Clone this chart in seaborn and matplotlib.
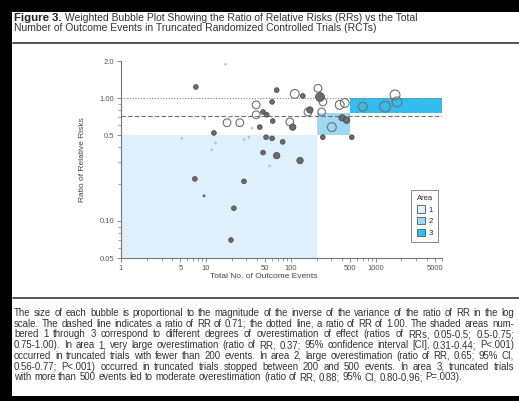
import matplotlib

matplotlib.use("Agg")
import matplotlib.pyplot as plt
import numpy as np
import pandas as pd
import seaborn as sns
from matplotlib.lines import Line2D
from matplotlib.patches import Patch, Rectangle

# --- data ---
events = [17, 7.6, 39, 39, 60, 68, 47, 52, 61, 17.7, 25, 19, 9.7, 35, 43,
          97, 105, 111, 138, 208, 220, 238, 167, 159, 230, 237, 303, 375, 430,
          400, 453, 520, 12.4, 13, 11.7, 5.2, 28, 32, 51, 60, 80, 47, 68, 128,
          56, 7.4, 28, 9.5, 21.3, 19.7, 700, 1280, 1680, 1770]
ratio_rr = [1.88, 1.23, 0.88, 0.73, 0.93, 1.16, 0.77, 0.73, 0.65, 0.63, 0.63,
            0.70, 0.68, 0.57, 0.58, 0.64, 0.58, 1.08, 1.04, 1.20, 1.02, 0.93,
            0.80, 0.77, 0.77, 0.48, 0.58, 0.88, 0.91, 0.69, 0.66, 0.48, 0.52,
            0.43, 0.38, 0.47, 0.46, 0.48, 0.48, 0.47, 0.44, 0.36, 0.34, 0.31,
            0.28, 0.22, 0.21, 0.16, 0.127, 0.070, 0.85, 0.85, 1.06, 0.93]
weight = [1, 2, 4, 4, 2, 2, 2, 2, 2, 4, 4, 1, 1, 1, 2,
          4, 3, 5, 2, 4, 5, 4, 3, 4, 4, 2, 5, 5, 5,
          3, 3, 2, 2, 1, 1, 1, 1, 1, 2, 2, 2, 2, 3, 3,
          1, 2, 2, 1, 2, 2, 5, 7, 6, 6]
marker_kind = ["light", "dark", "open", "open", "dark", "dark", "dark", "dark", "dark",
               "open", "open", "light", "light", "light", "dark",
               "open", "dark", "open", "dark", "open", "dark", "open", "dark", "open",
               "open", "dark", "open", "open", "open", "dark", "dark", "dark",
               "dark", "light", "light", "light", "light", "light", "dark", "dark",
               "dark", "dark", "dark", "dark", "light", "dark", "dark", "dark",
               "dark", "dark", "open", "open", "open", "open"]

area_names = ["1", "2", "3"]
area_x_lo = [1, 200, 500]
area_x_hi = [200, 500, 6000]
area_y_lo = [0.05, 0.5, 0.75]
area_y_hi = [0.5, 0.75, 1.00]
area_colors = ["#def0fb", "#9fd8f3", "#35bcef"]

dashed_ratio = 0.71
dotted_ratio = 1.00

x_ticks = [1, 5, 10, 50, 100, 500, 1000, 5000]
y_ticks = [0.05, 0.10, 0.5, 1.00, 2.0]
y_tick_labels = ["0.05", "0.10", "0.5", "1.00", "2.0"]

title_bold = "Figure 3."
title_line1 = " Weighted Bubble Plot Showing the Ratio of Relative Risks (RRs) vs the Total"
title_line2 = "Number of Outcome Events in Truncated Randomized Controlled Trials (RCTs)"
caption_lines = [
    "The size of each bubble is proportional to the magnitude of the inverse of the variance of the ratio of RR in the log",
    "scale. The dashed line indicates a ratio of RR of 0.71; the dotted line, a ratio of RR of 1.00. The shaded areas num-",
    "bered 1 through 3 correspond to different degrees of overestimation of effect (ratios of RRs, 0.05-0.5; 0.5-0.75;",
    "0.75-1.00). In area 1, very large overestimation (ratio of RR, 0.37; 95% confidence interval [CI], 0.31-0.44; P<.001)",
    "occurred in truncated trials with fewer than 200 events. In area 2, large overestimation (ratio of RR, 0.65; 95% CI,",
    "0.56-0.77; P<.001) occurred in truncated trials stopped between 200 and 500 events. In area 3, truncated trials",
    "with more than 500 events led to moderate overestimation (ratio of RR, 0.88; 95% CI, 0.80-0.96; P=.003).",
]

sns.set_style("ticks")
plt.rcParams["font.family"] = ["Liberation Sans", "DejaVu Sans"]

W, H = 519, 401
fig = plt.figure(figsize=(W / 100, H / 100), dpi=100, facecolor="black")
renderer = fig.canvas.get_renderer()

# white page panel
fig.patches.append(Rectangle((12 / W, 1 - 396 / H), 1 - 12 / W, (396 - 12) / H,
                             transform=fig.transFigure, facecolor="white",
                             edgecolor="none", zorder=-5))

ax = fig.add_axes([121 / W, 1 - 258 / H, 321 / W, 197 / H])
ax.set_zorder(2)
ax.set_facecolor("none")
ax.set_xscale("log")
ax.set_yscale("log")
ax.set_xlim(1, 6000)
ax.set_ylim(0.05, 2.0)

for x0, x1, y0, y1, c in zip(area_x_lo, area_x_hi, area_y_lo, area_y_hi, area_colors):
    ax.fill_between([x0, x1], y0, y1, color=c, linewidth=0, zorder=1)

ax.axhline(dotted_ratio, color="#808080", lw=0.8, ls=(0, (1, 1.5)), zorder=2)
ax.axhline(dashed_ratio, color="#707070", lw=0.8, ls=(0, (4, 2)), zorder=2)

df = pd.DataFrame({"events": events, "ratio": ratio_rr, "weight": weight, "kind": marker_kind})
styles = {
    "open": dict(facecolor="none", edgecolor="#707070", linewidth=0.8),
    "dark": dict(color="#6b6b6b", edgecolor="#444444", linewidth=0.5),
    "light": dict(color="#c2c2c2", edgecolor="#b0b0b0", linewidth=0.3),
}
for kind, kw in styles.items():
    sub = df[df["kind"] == kind]
    sns.scatterplot(data=sub, x="events", y="ratio", size="weight", sizes=(2, 60),
                    size_norm=(1, 7), legend=False, ax=ax, zorder=3, **kw)

sns.despine(ax=ax)
for side in ["left", "bottom"]:
    ax.spines[side].set_color("#777777")
    ax.spines[side].set_linewidth(0.8)

ax.set_xticks(x_ticks)
ax.set_xticklabels([str(t) for t in x_ticks])
ax.set_yticks(y_ticks)
ax.set_yticklabels(y_tick_labels)
ax.tick_params(which="major", length=3, width=0.6, color="#777777", labelsize=5.5,
               labelcolor="#555555", pad=2)
ax.tick_params(which="minor", length=2, width=0.5, color="#777777")
ax.yaxis.set_minor_formatter(matplotlib.ticker.NullFormatter())
ax.xaxis.set_minor_formatter(matplotlib.ticker.NullFormatter())

ax.set_xlabel("Total No. of Outcome Events", fontsize=6, color="#444444", labelpad=2)
ax.set_ylabel("Ratio of Relative Risks", fontsize=6, color="#444444", labelpad=10)
ax.xaxis.set_label_coords(0.445, -0.075)

handles = [Patch(facecolor=c, edgecolor="#555555", linewidth=0.6) for c in area_colors]
leg = ax.legend(handles, area_names, title="Area", loc="lower right",
                bbox_to_anchor=(1.0, 0.06), fontsize=5.5, title_fontsize=5.5,
                frameon=True, fancybox=False, handlelength=1.1, handleheight=1.1,
                handletextpad=0.4, borderpad=0.7, labelspacing=0.45)
leg.get_frame().set_edgecolor("#555555")
leg.get_frame().set_linewidth(0.6)

# title block
t0 = fig.text(14 / W, 1 - 18 / H, title_bold, fontsize=8.2, fontweight="bold",
              color="#222222", va="center", ha="left")
bb = t0.get_window_extent(renderer)
fig.text(bb.x1 / W, 1 - 18 / H, title_line1, fontsize=7.5, color="#333333",
         va="center", ha="left")
fig.text(14 / W, 1 - 28 / H, title_line2, fontsize=7.5, color="#333333",
         va="center", ha="left")
fig.add_artist(Line2D([13 / W, 1], [1 - 43 / H, 1 - 43 / H], color="#555555",
                      lw=1.4, transform=fig.transFigure))
fig.add_artist(Line2D([13 / W, 1], [1 - 298 / H, 1 - 298 / H], color="#555555",
                      lw=1.4, transform=fig.transFigure))

# justified caption: spread words so each full line spans the text column
left_px, right_px = 14, 514
cap_size = 6.95
for i, line in enumerate(caption_lines):
    y = 1 - (313 + i * 10.7) / H
    words = line.split(" ")
    last = i == len(caption_lines) - 1
    arts = [fig.text(0, y, w, fontsize=cap_size, color="#333333", va="center", ha="left")
            for w in words]
    widths = [a.get_window_extent(renderer).width for a in arts]
    natural = cap_size * 100 / 72 * 0.28
    if last:
        space = natural
    else:
        space = (right_px - left_px - sum(widths)) / (len(words) - 1)
        space = max(space, natural * 0.6)
    x = left_px
    for a, wdt in zip(arts, widths):
        a.set_x(x / W)
        x += wdt + space

fig.savefig("out.png", dpi=100, facecolor=fig.get_facecolor())
